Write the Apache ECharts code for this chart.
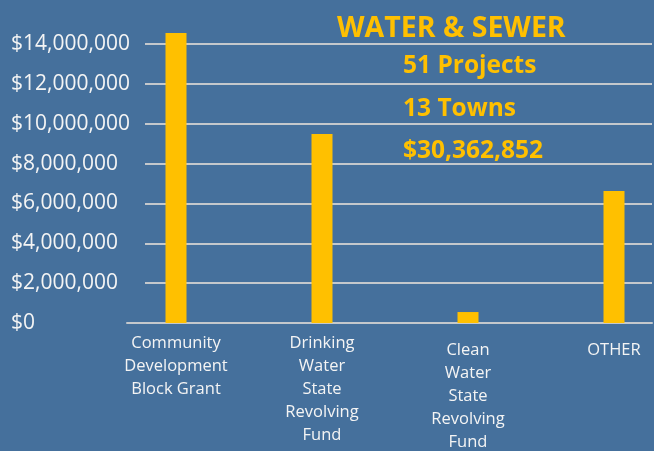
<!DOCTYPE html>
<html>
<head>
<meta charset="utf-8">
<script src="https://cdn.jsdelivr.net/npm/echarts@6/dist/echarts.min.js"></script>
<style>
html,body{margin:0;padding:0;background:#45709c;}
#c{width:654px;height:451px;}
</style>
</head>
<body>
<div id="c"></div>
<script>
const categories = [
  "Community\nDevelopment\nBlock Grant",
  "Drinking\nWater\nState\nRevolving\nFund",
  "Clean\nWater\nState\nRevolving\nFund",
  "OTHER"
];
const values = [14550000, 9480000, 550000, 6620000];
const headlines = ["WATER & SEWER", "51 Projects", "13 Towns", "$30,362,852"];
const yMin = 0, yMax = 14000000, yStep = 2000000;

const FONT = '"Open Sans", "Liberation Sans", sans-serif';
const chart = echarts.init(document.getElementById('c'));

function money(v){ return '$' + Number(v).toLocaleString('en-US'); }

chart.setOption({
  backgroundColor: '#45709c',
  animation: false,
  grid: [
    {left: 103, width: 584, top: 44, bottom: 128, outerBoundsMode: 'none', containLabel: false},   // bars
    {left: 145, right: 2, top: 44, bottom: 128, outerBoundsMode: 'none', containLabel: false},     // grid lines
    {left: 127, right: 2, top: 44, bottom: 128, outerBoundsMode: 'none', containLabel: false}      // baseline
  ],
  xAxis: [
    {
      type: 'category', gridIndex: 0,
      data: categories.map((c, i) => i >= 2 ? {value: c, textStyle: {padding: [7, 0, 0, 0]}} : c),
      axisLine: {show: false}, axisTick: {show: false},
      axisLabel: {color: '#f4f4f4', fontFamily: FONT, fontSize: 16.5, lineHeight: 23, margin: 9, interval: 0}
    },
    {type: 'category', gridIndex: 1, data: categories, show: false},
    {
      type: 'category', gridIndex: 2, data: categories,
      axisLine: {show: true, lineStyle: {color: '#c4c8cc', width: 2}},
      axisTick: {show: false}, axisLabel: {show: false}
    }
  ],
  yAxis: [
    {
      type: 'value', gridIndex: 0, min: yMin, max: yMax, interval: yStep,
      splitLine: {show: false}, axisLine: {show: false}, axisTick: {show: false},
      axisLabel: {
        align: 'left', margin: 92, color: '#f4f4f4', fontFamily: FONT, fontSize: 21,
        formatter: money
      }
    },
    {
      type: 'value', gridIndex: 1, min: yMin, max: yMax, interval: yStep,
      axisLine: {show: false}, axisTick: {show: false}, axisLabel: {show: false},
      splitLine: {show: true, lineStyle: {color: '#c4c8cc', width: 2}}
    },
    {
      type: 'value', gridIndex: 2, min: yMin, max: yMax, interval: yStep,
      show: false, splitLine: {show: false}
    }
  ],
  series: [{
    type: 'bar', xAxisIndex: 0, yAxisIndex: 0, data: values,
    barWidth: 21, clip: false, z: 5,
    itemStyle: {color: '#ffc000'}
  }],
  graphic: [
    {type: 'text', left: 337, top: 14, z: 10, style: {text: headlines[0], fill: '#ffc000', font: 'bold 28.5px ' + FONT}},
    {type: 'text', left: 403, top: 54, z: 10, style: {text: headlines[1], fill: '#ffc000', font: 'bold 24.5px ' + FONT}},
    {type: 'text', left: 403, top: 97, z: 10, style: {text: headlines[2], fill: '#ffc000', font: 'bold 24.5px ' + FONT}},
    {type: 'text', left: 403, top: 139, z: 10, style: {text: headlines[3], fill: '#ffc000', font: 'bold 24.5px ' + FONT}}
  ]
});
</script>
</body>
</html>
